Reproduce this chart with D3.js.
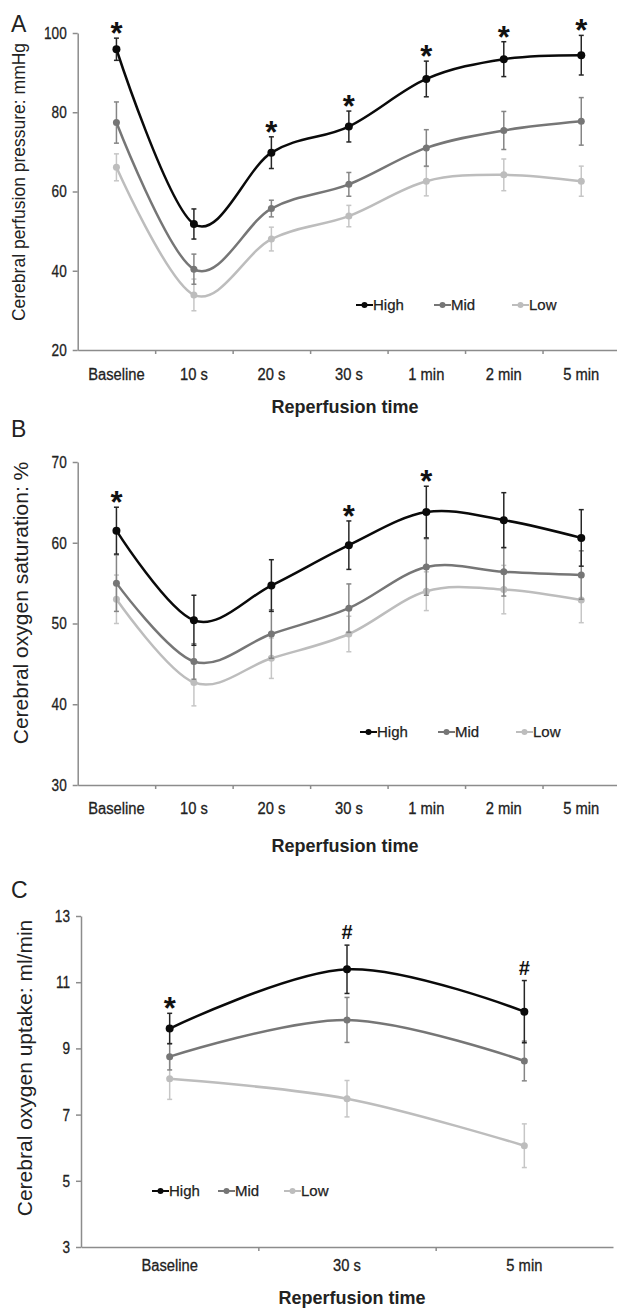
<!DOCTYPE html>
<html>
<head>
<meta charset="utf-8">
<script src="https://cdn.jsdelivr.net/npm/d3@7"></script>
<style>
  body { margin: 0; background: #fff; }
  svg { display: block; font-family: "Liberation Sans", Arial, sans-serif; }
</style>
</head>
<body>
<div id="chart"></div>
<script>
// groups and time points
const groups = ["High", "Mid", "Low"];
const timesLong = ["Baseline", "10 s", "20 s", "30 s", "1 min", "2 min", "5 min"];
const timesShort = ["Baseline", "30 s", "5 min"];

// A - cerebral perfusion pressure (mmHg), mean and sd
const cppHigh   = [95.9, 51.8, 69.8, 76.4, 88.4, 93.4, 94.4];
const cppHighSd = [2.8, 3.8, 4.0, 3.9, 4.5, 4.4, 5.0];
const cppMid    = [77.4, 40.4, 55.7, 61.8, 71.0, 75.4, 77.7];
const cppMidSd  = [5.2, 3.8, 2.1, 3.0, 4.6, 4.8, 6.0];
const cppLow    = [66.1, 33.9, 48.0, 53.8, 62.6, 64.2, 62.6];
const cppLowSd  = [3.4, 4.0, 3.0, 2.7, 3.7, 4.0, 3.8];
const cppMarks  = ["*", "", "*", "*", "*", "*", "*"];
const cppTicks  = [20, 40, 60, 80, 100];

// B - cerebral oxygen saturation (%)
const so2High   = [61.5, 50.4, 54.7, 59.7, 63.8, 62.8, 60.6];
const so2HighSd = [2.9, 3.1, 3.2, 3.0, 3.2, 3.4, 3.5];
const so2Mid    = [55.0, 45.3, 48.7, 51.9, 57.0, 56.4, 56.0];
const so2MidSd  = [3.5, 2.2, 3.0, 3.0, 3.5, 3.0, 3.0];
const so2Low    = [53.0, 42.7, 45.7, 48.7, 54.0, 54.2, 52.9];
const so2LowSd  = [3.0, 2.9, 2.5, 2.2, 2.4, 3.0, 2.8];
const so2Marks  = ["*", "", "", "*", "*", "", ""];
const so2Ticks  = [30, 40, 50, 60, 70];

// C - cerebral oxygen uptake (ml/min)
const vo2High   = [9.6, 11.39, 10.11];
const vo2HighSd = [0.46, 0.73, 0.94];
const vo2Mid    = [8.75, 9.86, 8.62];
const vo2MidSd  = [0.4, 0.68, 0.6];
const vo2Low    = [8.08, 7.48, 6.06];
const vo2LowSd  = [0.62, 0.55, 0.66];
const vo2Marks  = ["*", "#", "#"];
const vo2Ticks  = [3, 5, 7, 9, 11, 13];

const W = 617, H = 1309;

const lineColor = { High: "#0a0a0a", Mid: "#767676", Low: "#bdbdbd" };
const barColor  = { High: "#262626", Mid: "#858585", Low: "#c6c6c6" };
const dotR      = { High: 4, Mid: 3.5, Low: 3.5 };
const axisColor = "#8c8c8c";
const textColor = "#222";

const svg = d3.select("#chart").append("svg")
    .attr("width", W)
    .attr("height", H);

// squeeze text horizontally (reference uses a narrow face)
function condense(sel, k) {
    sel.each(function() {
        const w = this.getComputedTextLength();
        d3.select(this).attr("textLength", w * k).attr("lengthAdjust", "spacingAndGlyphs");
    });
}

function drawPanel(cfg) {
    const g = svg.append("g");
    const n = cfg.cats.length;

    const x = d3.scaleBand().domain(cfg.cats).range([cfg.x0, cfg.x1]);
    const xb = d3.scaleLinear().domain([0, n]).range([cfg.x0, cfg.x1]);
    const y = d3.scaleLinear().domain(cfg.yDomain).range([cfg.yBottom, cfg.yTop]);
    const cx = c => x(c) + x.bandwidth() / 2;

    // x axis line + tick marks between categories
    const xAxis = g.append("g")
        .attr("transform", `translate(0,${cfg.yBottom})`)
        .call(d3.axisBottom(xb).tickValues(d3.range(1, n)).tickFormat("").tickSize(4).tickSizeOuter(0));

    // category labels
    const xLab = g.append("g")
        .attr("transform", `translate(0,${cfg.yBottom})`)
        .call(d3.axisBottom(x).tickSize(0).tickPadding(cfg.labelPad));
    xLab.select(".domain").remove();
    xLab.selectAll("text").attr("font-size", 16).attr("fill", textColor)
        .attr("stroke", textColor).attr("stroke-width", 0.3);
    condense(xLab.selectAll("text"), 0.92);

    // y axis
    const yAxis = g.append("g")
        .attr("transform", `translate(${cfg.x0},0)`)
        .call(d3.axisLeft(y).tickValues(cfg.yTicks).tickSize(5).tickPadding(6).tickSizeOuter(0));
    yAxis.selectAll("text").attr("font-size", 17).attr("fill", textColor)
        .attr("stroke", textColor).attr("stroke-width", 0.3);
    condense(yAxis.selectAll("text"), 0.8);

    [xAxis, yAxis].forEach(a => {
        a.selectAll("path, line").attr("stroke", axisColor).attr("stroke-width", 1.5);
    });

    // series, Low first so High sits on top
    const line = d3.line()
        .x((d, i) => cx(cfg.cats[i]))
        .y(d => y(d))
        .curve(d3.curveCardinal.tension(0));

    cfg.series.slice().reverse().forEach(s => {
        const pts = s.values.map((v, i) => ({ c: cfg.cats[i], v: v, sd: s.sd[i] }));
        const sg = g.append("g");

        sg.append("path")
            .datum(s.values)
            .attr("fill", "none")
            .attr("stroke", lineColor[s.name])
            .attr("stroke-width", 2.5)
            .attr("d", line);

        const eb = sg.selectAll(".eb").data(pts).enter().append("g")
            .attr("stroke", barColor[s.name])
            .attr("stroke-width", 1.5);
        eb.append("line")
            .attr("x1", d => cx(d.c)).attr("x2", d => cx(d.c))
            .attr("y1", d => y(d.v + d.sd)).attr("y2", d => y(d.v - d.sd));
        eb.append("line")
            .attr("x1", d => cx(d.c) - 2.5).attr("x2", d => cx(d.c) + 2.5)
            .attr("y1", d => y(d.v + d.sd)).attr("y2", d => y(d.v + d.sd));
        eb.append("line")
            .attr("x1", d => cx(d.c) - 2.5).attr("x2", d => cx(d.c) + 2.5)
            .attr("y1", d => y(d.v - d.sd)).attr("y2", d => y(d.v - d.sd));

        sg.selectAll("circle").data(pts).enter().append("circle")
            .attr("cx", d => cx(d.c))
            .attr("cy", d => y(d.v))
            .attr("r", dotR[s.name])
            .attr("fill", lineColor[s.name]);
    });

    // significance marks above the High error bars
    const hi = cfg.series[0];
    g.selectAll(".mark").data(cfg.marks.map((m, i) => ({ m, i })).filter(d => d.m)).enter()
        .append("text")
        .attr("x", d => cx(cfg.cats[d.i]))
        .attr("y", d => {
            const top = y(hi.values[d.i] + hi.sd[d.i]);
            return d.m === "*" ? top + 6 : top - 6;
        })
        .attr("text-anchor", "middle")
        .attr("font-weight", "bold")
        .attr("font-size", d => d.m === "*" ? 31 : 20)
        .attr("fill", "#111")
        .text(d => d.m);

    // legend
    const lg = g.append("g").attr("transform", `translate(${cfg.legX},${cfg.legY})`);
    cfg.series.forEach((s, i) => {
        const it = lg.append("g").attr("transform", `translate(${i * cfg.legStep},0)`);
        it.append("line").attr("x1", 0).attr("x2", 17).attr("stroke", lineColor[s.name]).attr("stroke-width", 2);
        it.append("circle").attr("cx", 8.5).attr("r", 3).attr("fill", lineColor[s.name]);
        it.append("text").attr("x", 17).attr("dy", "0.36em")
            .attr("font-size", 15).attr("fill", textColor)
            .attr("stroke", textColor).attr("stroke-width", 0.25)
            .text(s.name);
    });

    // panel letter
    svg.append("text")
        .attr("x", 11).attr("y", cfg.letterY)
        .attr("font-size", 23).attr("fill", textColor)
        .text(cfg.letter);

    // y title
    svg.append("text")
        .attr("transform", `translate(${cfg.yTitleX},${cfg.yTitleY}) rotate(-90)`)
        .attr("text-anchor", "middle")
        .attr("font-size", cfg.yTitleSize).attr("fill", textColor)
        .text(cfg.yTitle);

    // x title
    svg.append("text")
        .attr("x", cfg.xTitleX).attr("y", cfg.xTitleY)
        .attr("text-anchor", "middle")
        .attr("font-size", 18).attr("font-weight", "bold").attr("fill", textColor)
        .text("Reperfusion time");
}

function mkSeries(vals, sds) {
    return groups.map((name, i) => ({ name, values: vals[i], sd: sds[i] }));
}

drawPanel({
    letter: "A", letterY: 32,
    cats: timesLong, x0: 77.7, x1: 620,
    yDomain: [20, 100], yTop: 33, yBottom: 350, yTicks: cppTicks,
    labelPad: 18.3,
    series: mkSeries([cppHigh, cppMid, cppLow], [cppHighSd, cppMidSd, cppLowSd]),
    marks: cppMarks,
    legX: 356, legY: 305, legStep: 78,
    yTitle: "Cerebral perfusion pressure: mmHg", yTitleX: 25, yTitleY: 182, yTitleSize: 17.5,
    xTitleX: 345, xTitleY: 412.5
});

drawPanel({
    letter: "B", letterY: 437,
    cats: timesLong, x0: 77.7, x1: 620,
    yDomain: [30, 70], yTop: 462, yBottom: 785, yTicks: so2Ticks,
    labelPad: 17.3,
    series: mkSeries([so2High, so2Mid, so2Low], [so2HighSd, so2MidSd, so2LowSd]),
    marks: so2Marks,
    legX: 360, legY: 732, legStep: 78,
    yTitle: "Cerebral oxygen saturation: %", yTitleX: 28, yTitleY: 603, yTitleSize: 21,
    xTitleX: 345, xTitleY: 851.5
});

drawPanel({
    letter: "C", letterY: 898,
    cats: timesShort, x0: 81, x1: 613,
    yDomain: [3, 13], yTop: 916, yBottom: 1247, yTicks: vo2Ticks,
    labelPad: 12.3,
    series: mkSeries([vo2High, vo2Mid, vo2Low], [vo2HighSd, vo2MidSd, vo2LowSd]),
    marks: vo2Marks,
    legX: 152, legY: 1191, legStep: 66,
    yTitle: "Cerebral oxygen uptake: ml/min", yTitleX: 31.5, yTitleY: 1068, yTitleSize: 21,
    xTitleX: 352, xTitleY: 1303.5
});
</script>
</body>
</html>
